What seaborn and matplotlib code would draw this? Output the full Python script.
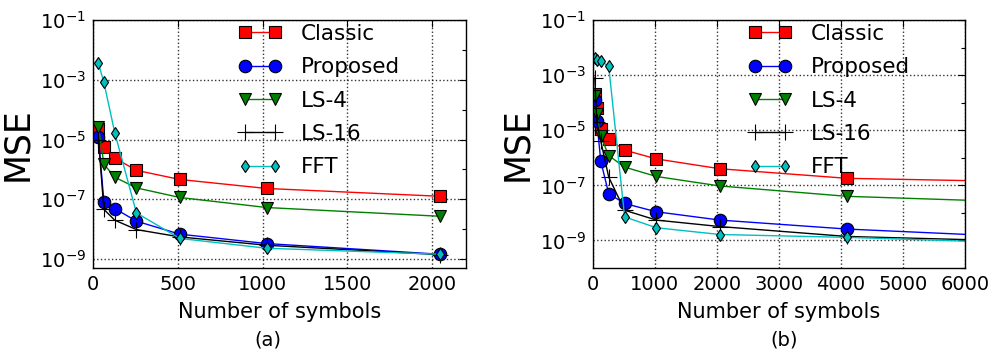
import matplotlib
matplotlib.use("Agg")
import matplotlib.pyplot as plt
import seaborn as sns
from matplotlib.ticker import LogLocator, FixedLocator, NullFormatter

# panel (a): 2048 symbols
x_a = [32, 64, 128, 256, 512, 1024, 2048]
classic_a = [2.3e-5, 5.6e-6, 2.4e-6, 9.3e-7, 4.6e-7, 2.3e-7, 1.26e-7]
proposed_a = [1.2e-5, 8.1e-8, 4.9e-8, 1.85e-8, 6.8e-9, 3.3e-9, 1.45e-9]
ls4_a = [2.7e-5, 1.5e-6, 5.5e-7, 2.4e-7, 1.15e-7, 5.3e-8, 2.7e-8]
ls16_a = [1.0e-5, 4.6e-8, 2.0e-8, 9.7e-9, 5.5e-9, 2.9e-9, 1.4e-9]
fft_a = [3.5e-3, 8.1e-4, 1.7e-5, 3.5e-8, 4.9e-9, 2.3e-9, 1.45e-9]

# panel (b): up to 8192 symbols
x_b = [32, 64, 128, 256, 512, 1024, 2048, 4096, 8192]
classic_b = [2.0e-4, 6.6e-5, 1.1e-5, 4.8e-6, 1.9e-6, 9.1e-7, 4.0e-7, 1.8e-7, 1.2e-7]
proposed_b = [1.2e-4, 2.2e-5, 7.6e-7, 5.0e-8, 2.2e-8, 1.1e-8, 5.5e-9, 2.6e-9, 1.0e-9]
ls4_b = [1.7e-4, 4.0e-5, 6.0e-6, 1.2e-6, 4.6e-7, 2.1e-7, 9.5e-8, 4.0e-8, 2.0e-8]
ls16_b = [8.0e-4, 2.0e-5, 4.0e-6, 2.0e-7, 1.25e-8, 5.5e-9, 3.2e-9, 1.4e-9, 8.0e-10]
fft_b = [4.2e-3, 3.5e-3, 3.2e-3, 2.1e-3, 7.2e-9, 2.9e-9, 1.65e-9, 1.3e-9, 6.6e-10]

labels = ["Classic", "Proposed", "LS-4", "LS-16", "FFT"]
xticks_a = [0, 500, 1000, 1500, 2000]
xticks_b = [0, 1000, 2000, 3000, 4000, 5000, 6000]
yticks = [1e-9, 1e-7, 1e-5, 1e-3, 1e-1]

colors = ["#ff0000", "#0000ff", "#008000", "#000000", "#00bfbf"]
markers = ["s", "o", "v", "+", "d"]
msizes = [8.5, 9, 9, 11, 6]

sns.set_style("white", {"xtick.direction": "in", "ytick.direction": "in"})
plt.rcParams["font.family"] = ["DejaVu Sans"]
plt.rcParams["mathtext.default"] = "regular"
plt.rcParams["text.color"] = "k"
plt.rcParams["axes.labelcolor"] = "k"
plt.rcParams["xtick.color"] = "k"
plt.rcParams["ytick.color"] = "k"


def Plot_panel(ax, x, series, xticks, xlim, ylim):
    for y, lab, c, m, ms in zip(series, labels, colors, markers, msizes):
        sns.lineplot(x=x, y=y, ax=ax, label=lab, color=c, linewidth=1.0,
                     marker=m, markersize=ms,
                     markeredgecolor=c if m == "+" else "k",
                     markeredgewidth=0.8, estimator=None, sort=False)
    ax.set_yscale("log")
    ax.set_xlim(*xlim)
    ax.set_ylim(*ylim)
    ax.set_xticks(xticks)
    ax.yaxis.set_major_locator(FixedLocator(yticks))
    ax.yaxis.set_minor_locator(LogLocator(base=10, subs=(1.0,), numticks=20))
    ax.yaxis.set_minor_formatter(NullFormatter())
    ax.grid(True, which="major", linestyle=":", color="k", linewidth=1.0, alpha=0.8)
    ax.tick_params(which="both", direction="in", top=True, right=True,
                   labelsize=14, pad=5)
    ax.tick_params(which="major", length=5, width=0.8)
    ax.tick_params(which="minor", length=3, width=0.8)
    for s in ax.spines.values():
        s.set_color("k")
        s.set_linewidth(1.0)
    ax.set_xlabel("Number of symbols", fontsize=15, labelpad=6)
    ax.set_ylabel("MSE", fontsize=25, labelpad=4)


fig = plt.figure(figsize=(9.93, 3.56), dpi=100)
ax_a = fig.add_axes([0.0937, 0.247, 0.3756, 0.697])
ax_b = fig.add_axes([0.597, 0.247, 0.375, 0.697])

Plot_panel(ax_a, x_a, [classic_a, proposed_a, ls4_a, ls16_a, fft_a],
           xticks_a, (0, 2200), (5e-10, 1e-1))
Plot_panel(ax_b, x_b, [classic_b, proposed_b, ls4_b, ls16_b, fft_b],
           xticks_b, (0, 6000), (1e-10, 1e-1))

for ax, anchor in ((ax_a, (0.35, 1.045)), (ax_b, (0.378, 1.045))):
    ax.legend(loc="upper left", bbox_to_anchor=anchor, frameon=False, numpoints=2,
              fontsize=15.5, handlelength=2.0, handletextpad=0.9, labelspacing=0.62,
              borderpad=0.2)

fig.text(0.27, 0.03, "(a)", ha="center", fontsize=14)
fig.text(0.79, 0.03, "(b)", ha="center", fontsize=14)

fig.savefig("out.png", dpi=100)
